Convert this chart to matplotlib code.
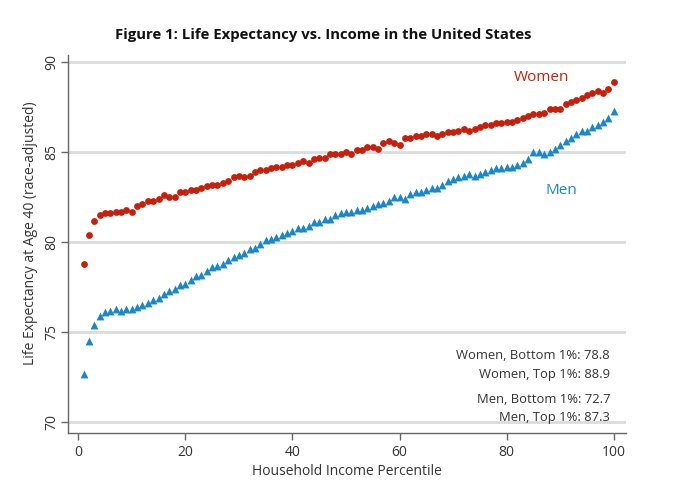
import numpy as np
import matplotlib
matplotlib.use('Agg')
import matplotlib.pyplot as plt

plt.rcParams['font.family'] = ['Open Sans', 'DejaVu Sans']

percentile = list(range(1, 101))

women = [78.8, 80.4, 81.2, 81.5, 81.6, 81.6, 81.7, 81.7, 81.8, 81.7,
         82.0, 82.1, 82.3, 82.3, 82.4, 82.6, 82.5, 82.5, 82.8, 82.8,
         82.9, 82.9, 83.0, 83.1, 83.2, 83.2, 83.3, 83.4, 83.6, 83.7,
         83.6, 83.7, 83.9, 84.0, 84.0, 84.1, 84.2, 84.2, 84.3, 84.3,
         84.4, 84.5, 84.4, 84.6, 84.7, 84.7, 84.9, 84.9, 84.9, 85.0,
         84.9, 85.1, 85.1, 85.3, 85.3, 85.2, 85.5, 85.6, 85.5, 85.4,
         85.8, 85.8, 85.9, 85.9, 86.0, 86.0, 85.9, 86.0, 86.1, 86.1,
         86.2, 86.3, 86.2, 86.3, 86.4, 86.5, 86.5, 86.6, 86.6, 86.7,
         86.7, 86.8, 86.9, 87.0, 87.1, 87.1, 87.2, 87.4, 87.4, 87.4,
         87.7, 87.8, 87.9, 88.0, 88.2, 88.3, 88.4, 88.3, 88.5, 88.9]

men = [72.7, 74.5, 75.4, 75.9, 76.1, 76.2, 76.3, 76.2, 76.3, 76.3,
       76.4, 76.5, 76.6, 76.8, 76.9, 77.1, 77.3, 77.4, 77.6, 77.7,
       77.9, 78.1, 78.2, 78.4, 78.6, 78.7, 78.8, 79.0, 79.2, 79.3,
       79.4, 79.6, 79.7, 79.9, 80.1, 80.2, 80.3, 80.4, 80.5, 80.6,
       80.8, 80.8, 80.9, 81.1, 81.1, 81.3, 81.3, 81.5, 81.6, 81.7,
       81.7, 81.8, 81.8, 81.9, 82.0, 82.1, 82.2, 82.3, 82.5, 82.5,
       82.4, 82.7, 82.8, 82.8, 82.9, 83.0, 83.0, 83.2, 83.4, 83.5,
       83.6, 83.7, 83.8, 83.7, 83.8, 83.9, 84.0, 84.1, 84.1, 84.2,
       84.2, 84.3, 84.4, 84.6, 85.0, 85.0, 84.9, 85.0, 85.2, 85.4,
       85.6, 85.8, 86.0, 86.2, 86.2, 86.4, 86.5, 86.7, 86.9, 87.3]

notes = ['Women, Bottom 1%: 78.8', 'Women, Top 1%: 88.9',
         'Men, Bottom 1%: 72.7', 'Men, Top 1%: 87.3']

red = '#C61F0C'
blue = '#1A87C9'
axis_gray = '#666666'
text_gray = '#333333'

fig = plt.figure(figsize=(6.8, 4.96), dpi=100)
ax = fig.add_axes([0.1, 0.127, 0.82, 0.762])

for y in [70, 75, 80, 85, 90]:
    ax.axhline(y, color='#DCDCDC', lw=2, zorder=0)

ax.scatter(percentile, women, s=24, marker='o', color=red, linewidths=0, zorder=3)
ax.scatter(percentile, men, s=32, marker='^', color=blue, linewidths=0, zorder=3)

ax.set_xlim(-1.9, 102.2)
ax.set_ylim(69.4, 90.4)
ax.set_xticks([0, 20, 40, 60, 80, 100])
ax.set_yticks([70, 75, 80, 85, 90])

for s in ['top', 'right']:
    ax.spines[s].set_visible(False)
for s in ['left', 'bottom']:
    ax.spines[s].set_color(axis_gray)
    ax.spines[s].set_linewidth(1)

ax.tick_params(axis='both', colors=axis_gray, labelcolor=text_gray, labelsize=10,
               length=5, width=1)
ax.tick_params(axis='y', pad=1)
for lbl in ax.get_yticklabels():
    lbl.set_rotation(90)
    lbl.set_va('center')

ax.set_xlabel('Household Income Percentile', fontsize=10, color=text_gray, labelpad=3)
ax.set_ylabel('Life Expectancy at Age 40 (race-adjusted)', fontsize=10, color=text_gray)
ax.yaxis.set_label_coords(-0.054, 0.53)

ax.text(86.4, 89.15, 'Women', color=red, fontsize=11, ha='center', va='center')
ax.text(90.3, 82.9, 'Men', color=blue, fontsize=11, ha='center', va='center')

note_y = [73.68, 72.67, 71.28, 70.28]
for t, y in zip(notes, note_y):
    ax.text(99.3, y, t, color=text_gray, fontsize=9.4, ha='right', va='center')

fig.text(0.476, 0.93, 'Figure 1: Life Expectancy vs. Income in the United States',
         ha='center', va='center', fontsize=10.7, fontweight='bold', color='#111111')

fig.savefig('out.png', dpi=100)
